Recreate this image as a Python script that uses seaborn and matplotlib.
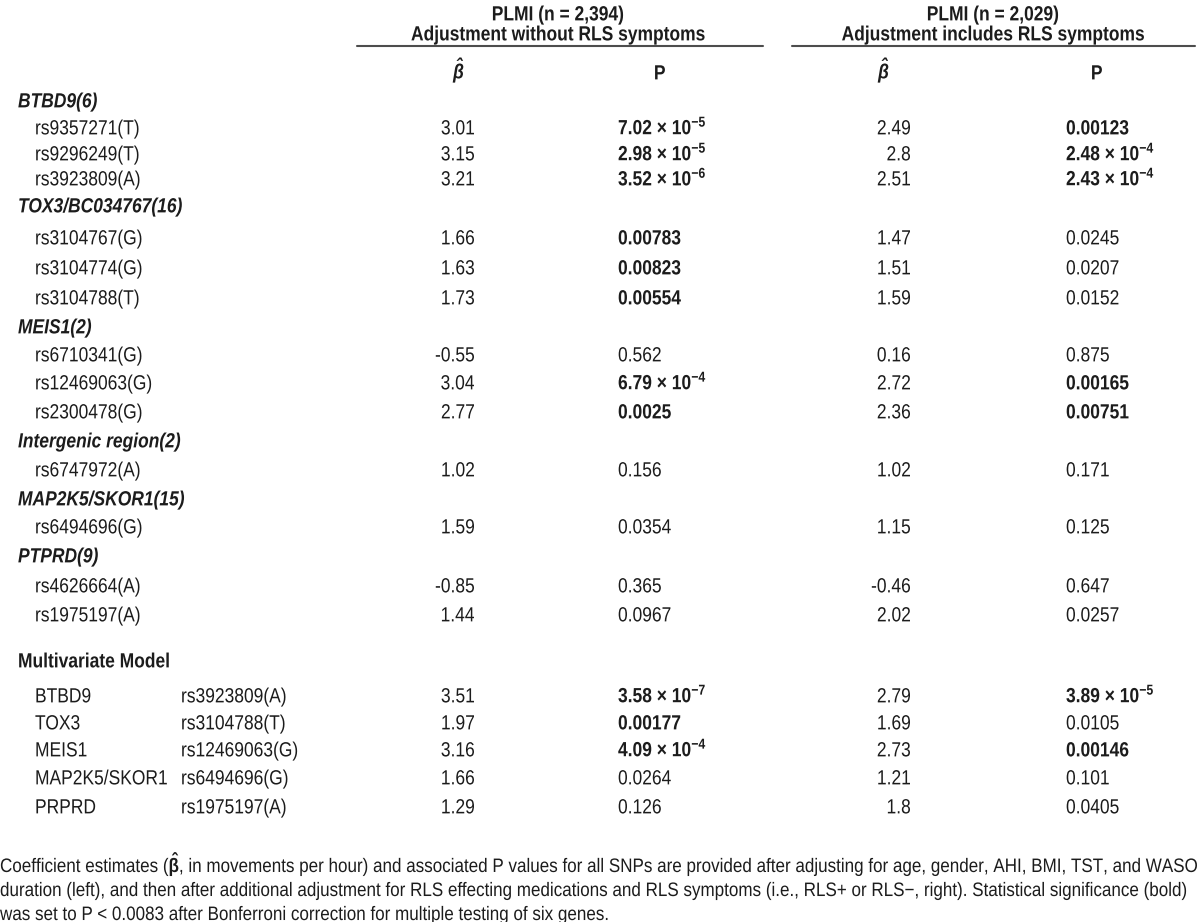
import matplotlib
matplotlib.use("Agg")
import matplotlib.pyplot as plt
import seaborn as sns
from matplotlib.textpath import TextPath
from matplotlib.patches import PathPatch
from matplotlib.font_manager import FontProperties
from matplotlib.transforms import Affine2D

# ---- data -------------------------------------------------------------
groups = ["BTBD9(6)", "TOX3/BC034767(16)", "MEIS1(2)", "Intergenic region(2)",
          "MAP2K5/SKOR1(15)", "PTPRD(9)"]
snps = [
    ["rs9357271(T)", "rs9296249(T)", "rs3923809(A)"],
    ["rs3104767(G)", "rs3104774(G)", "rs3104788(T)"],
    ["rs6710341(G)", "rs12469063(G)", "rs2300478(G)"],
    ["rs6747972(A)"],
    ["rs6494696(G)"],
    ["rs4626664(A)", "rs1975197(A)"],
]
beta_left = [3.01, 3.15, 3.21, 1.66, 1.63, 1.73, -0.55, 3.04, 2.77, 1.02, 1.59, -0.85, 1.44]
p_left = ["7.02e-5", "2.98e-5", "3.52e-6", "0.00783", "0.00823", "0.00554",
          "0.562", "6.79e-4", "0.0025", "0.156", "0.0354", "0.365", "0.0967"]
beta_right = [2.49, 2.8, 2.51, 1.47, 1.51, 1.59, 0.16, 2.72, 2.36, 1.02, 1.15, -0.46, 2.02]
p_right = ["0.00123", "2.48e-4", "2.43e-4", "0.0245", "0.0207", "0.0152",
           "0.875", "0.00165", "0.00751", "0.171", "0.125", "0.647", "0.0257"]

mv_genes = ["BTBD9", "TOX3", "MEIS1", "MAP2K5/SKOR1", "PRPRD"]
mv_snps = ["rs3923809(A)", "rs3104788(T)", "rs12469063(G)", "rs6494696(G)", "rs1975197(A)"]
mv_beta_left = [3.51, 1.97, 3.16, 1.66, 1.29]
mv_p_left = ["3.58e-7", "0.00177", "4.09e-4", "0.0264", "0.126"]
mv_beta_right = [2.79, 1.69, 2.73, 1.21, 1.8]
mv_p_right = ["3.89e-5", "0.0105", "0.00146", "0.101", "0.0405"]

headers = [("PLMI (n = 2,394)", "Adjustment without RLS symptoms"),
           ("PLMI (n = 2,029)", "Adjustment includes RLS symptoms")]
SIG = 0.0083

footnote = [
    r"Coefficient estimates ($\mathbf{\hat{\beta}}$, in movements per hour) and associated P values "
    "for all SNPs are provided after adjusting for age, gender, AHI, BMI, TST, and WASO",
    "duration (left), and then after additional adjustment for RLS effecting medications and RLS "
    "symptoms (i.e., RLS+ or RLS\u2212, right). Statistical significance (bold)",
    "was set to P < 0.0083 after Bonferroni correction for multiple testing of six genes.",
]

# ---- layout -----------------------------------------------------------
X_GROUP, X_SNP, X_MV2 = 18, 35, 181
X_BL, X_PL, X_BR, X_PR = 474, 618, 910, 1066
X_HL, X_HR = 558, 993
X_BHL, X_PHL, X_BHR, X_PHR = 458, 660, 883, 1097
RULES = [(357, 763), (792, 1195)]
Y_RULE = 46
ROW_Y = [100, 127, 153, 178, 205, 237, 267, 297, 326, 354, 382, 411,
         440, 469, 498, 526, 555, 585, 614]
MV_TITLE_Y = 660
MV_Y = [695, 722, 749, 777, 806]
FOOT_Y = [865, 889, 913]
FS = 20.5      # glyph size in pixels
SX = 0.85      # horizontal squeeze to mimic the narrow face
CAP = 0.72

sns.set_theme(style="white")
FAM = ["Liberation Sans", "DejaVu Sans"]
plt.rcParams["font.family"] = FAM
plt.rcParams["mathtext.default"] = "regular"
plt.rcParams["mathtext.fontset"] = "custom"
plt.rcParams["mathtext.rm"] = "Liberation Sans"
plt.rcParams["mathtext.it"] = "Liberation Sans:italic"
plt.rcParams["mathtext.bf"] = "Liberation Sans:bold"
TXT = "#1c1c1c"

fig = plt.figure(figsize=(12, 9.22), dpi=100)
ax = fig.add_axes([0, 0, 1, 1])
ax.set_xlim(0, 1200)
ax.set_ylim(922, 0)
ax.axis("off")


def fmt_p(s):
    if "e" in s:
        base, exp = s.split("e")
        return f"{base} \u00d7 10$^{{{int(exp)}}}$"
    return s


def wt(s):
    return "bold" if float(s) < SIG else "normal"


def put(x, y, s, ha="left", weight="normal", style="normal", size=FS, sx=SX):
    prop = FontProperties(family=FAM, weight=weight, style=style)
    tp = TextPath((0, 0), s, size=size, prop=prop)
    ext = tp.get_extents()
    if ha == "right":
        dx = -ext.x1 * sx
    elif ha == "center":
        dx = -(ext.x0 + ext.x1) / 2 * sx
    else:
        dx = 0
    tr = Affine2D().scale(sx, -1).translate(x + dx, y + CAP * size / 2)
    ax.add_patch(PathPatch(tr.transform_path(tp), fc=TXT, ec="none", lw=0))
    return ext.x1


# headers
for (l1, l2), xc, (x0, x1) in zip(headers, [X_HL, X_HR], RULES):
    put(xc, 13, l1, ha="center", weight="bold")
    put(xc, 33, l2, ha="center", weight="bold")
    ax.plot([x0, x1], [Y_RULE, Y_RULE], color="#4d4d4d", lw=1.5)
for xb, xp in [(X_BHL, X_PHL), (X_BHR, X_PHR)]:
    put(xb, 71, r"$\hat{\beta}$", ha="center", weight="bold", style="italic")
    put(xp, 72, "P", ha="center", weight="bold")

# single-SNP blocks
r = 0
k = 0
for g, lst in zip(groups, snps):
    put(X_GROUP, ROW_Y[r], g, weight="bold", style="italic")
    r += 1
    for s in lst:
        y = ROW_Y[r]
        put(X_SNP, y, s)
        put(X_BL, y, f"{beta_left[k]:g}", ha="right")
        put(X_PL, y, fmt_p(p_left[k]), weight=wt(p_left[k]))
        put(X_BR, y, f"{beta_right[k]:g}", ha="right")
        put(X_PR, y, fmt_p(p_right[k]), weight=wt(p_right[k]))
        r += 1
        k += 1

# multivariate model
put(X_GROUP, MV_TITLE_Y, "Multivariate Model", weight="bold")
for i, y in enumerate(MV_Y):
    put(X_SNP, y, mv_genes[i])
    put(X_MV2, y, mv_snps[i])
    put(X_BL, y, f"{mv_beta_left[i]:g}", ha="right")
    put(X_PL, y, fmt_p(mv_p_left[i]), weight=wt(mv_p_left[i]))
    put(X_BR, y, f"{mv_beta_right[i]:g}", ha="right")
    put(X_PR, y, fmt_p(mv_p_right[i]), weight=wt(mv_p_right[i]))

# footnote: squeeze so the first line spans the full width
w0 = TextPath((0, 0), footnote[0], size=19.5, prop=FontProperties(family=FAM)).get_extents().x1
sx_foot = 1197 / w0
for y, line in zip(FOOT_Y, footnote):
    put(0, y, line, size=19.5, sx=sx_foot)

fig.savefig("out.png", dpi=100, facecolor="white")
